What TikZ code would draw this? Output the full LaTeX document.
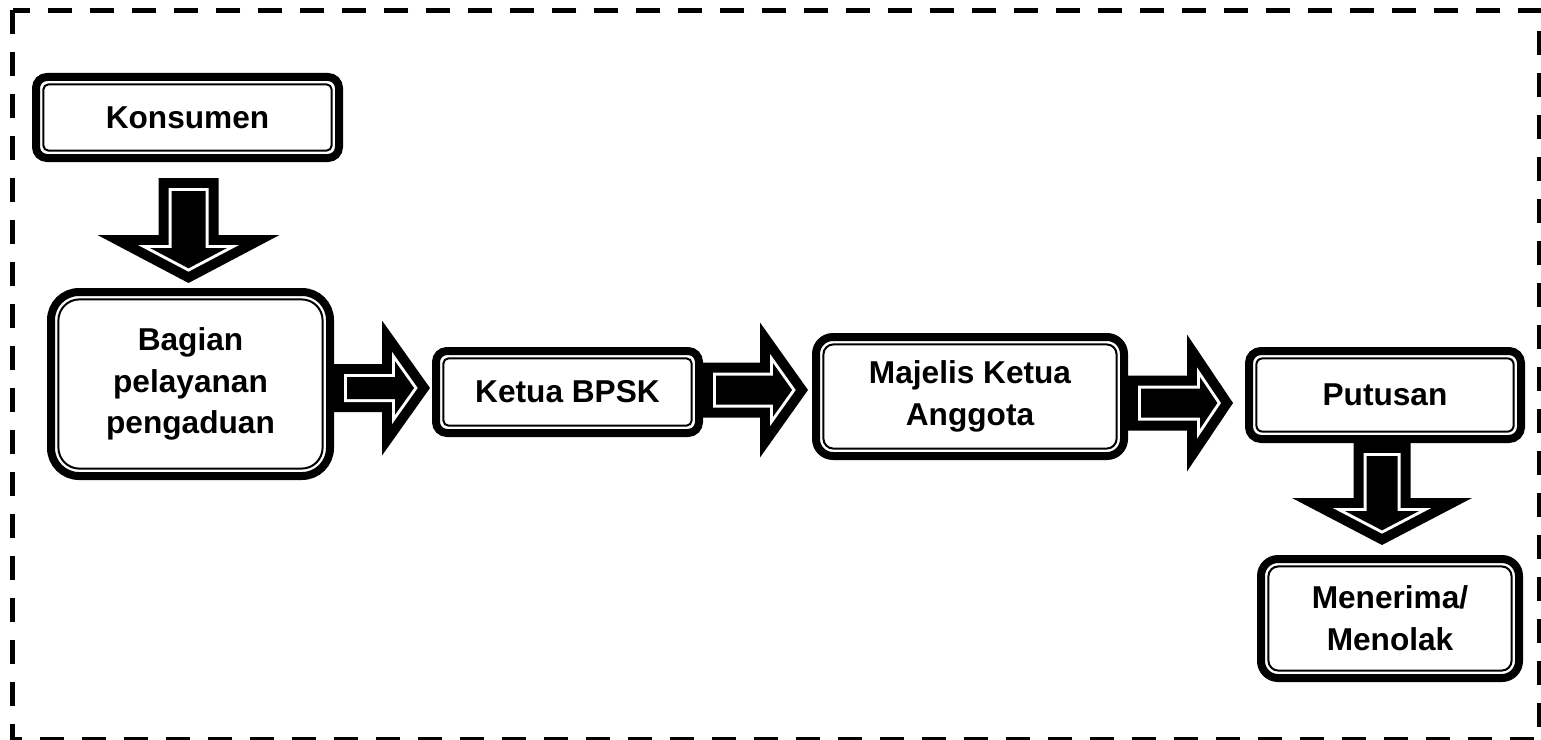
\documentclass[tikz,border=0pt]{standalone}
\usepackage{fontspec}
\setmainfont{Liberation Sans}
\usepackage{tikz}
\usetikzlibrary{calc}

\newlength{\titik}
\setlength{\titik}{0.02cm}

\tikzset{
    kotak/.style = {draw = black, line width = 8\titik, align = center, inner sep = 0pt,
        font = \bfseries\fontsize{18}{23.7}\selectfont},
    garisdalam/.style = {draw = black, line width = 2\titik},
}

% bentuk panah terisi: #1 warna, #2 pangkal, #3 ujung,
% #4 setengah lebar batang, #5 setengah lebar kepala, #6 panjang kepala (dalam titik)
\newcommand{\polipanah}[6]{
    \coordinate (kp) at ($(#3)!#6*0.02cm!(#2)$);
    \fill[#1] ($(#2)!#4*0.02cm!90:(#3)$) -- ($(kp)!#4*0.02cm!90:(#3)$)
        -- ($(kp)!#5*0.02cm!90:(#3)$) -- (#3) -- ($(kp)!#5*0.02cm!-90:(#3)$)
        -- ($(kp)!#4*0.02cm!-90:(#3)$) -- ($(#2)!#4*0.02cm!-90:(#3)$) -- cycle;
}

% panah blok hitam dengan garis putih di dalamnya
\newcommand{\panahblok}[5]{
    \polipanah{black}{#1}{#2}{#3}{#4}{#5}
    \foreach \jarak/\warna in {10/white, 13/black} {
        \pgfmathsetmacro{\mundur}{\jarak*sqrt(#4*#4+#5*#5)/#4}
        \pgfmathsetmacro{\pk}{#5-\jarak-\mundur}
        \pgfmathsetmacro{\lk}{\pk*#4/#5}
        \pgfmathsetmacro{\lb}{#3-\jarak}
        \coordinate (pa) at ($(#1)!\jarak*0.02cm!(#2)$);
        \coordinate (pb) at ($(#2)!\mundur*0.02cm!(#1)$);
        \polipanah{\warna}{pa}{pb}{\lb}{\lk}{\pk}
    }
}

\begin{document}
\begin{tikzpicture}[x = 0.02cm, y = -0.02cm]
    \useasboundingbox (0, 0) rectangle (1541, 740);
    \draw[line width = 0.1cm, dash pattern = on 0.48cm off 0.36cm] (12.5, 10.5) rectangle (1539.5, 739);

    \node[kotak, minimum width = 303\titik, minimum height = 81\titik, rounded corners = 11\titik]
        (konsumen) at (187.5, 117.5) {Konsumen};
    \node[kotak, minimum width = 279\titik, minimum height = 184\titik, rounded corners = 28\titik]
        (bagian) at (190.5, 384) {Bagian\\pelayanan\\pengaduan};
    \node[kotak, minimum width = 263\titik, minimum height = 82\titik, rounded corners = 11\titik]
        (ketua) at (567.5, 392) {Ketua BPSK};
    \node[kotak, minimum width = 308\titik, minimum height = 119\titik, rounded corners = 17\titik]
        (majelis) at (970, 396.5) {Majelis Ketua\\Anggota};
    \node[kotak, minimum width = 272\titik, minimum height = 88\titik, rounded corners = 12\titik]
        (putusan) at (1385, 395) {\raisebox{1.5\titik}{Putusan}};
    \node[kotak, minimum width = 258\titik, minimum height = 119\titik, rounded corners = 17\titik]
        (menerima) at (1390, 618.5) {Menerima/\\Menolak};

    % garis tipis di dalam kotak
    \foreach \n/\r in {konsumen/5, bagian/21, ketua/5, majelis/10, putusan/6, menerima/10}
        \draw[garisdalam, rounded corners = \r\titik] ([shift = {(11.4, 11.4)}]\n.north west)
            rectangle ([shift = {(-11.4, -11.4)}]\n.south east);

    \coordinate (p4) at ([shift = {(1, 16)}]konsumen.south);
    \coordinate (u4) at ([shift = {(-2, -5)}]bagian.north);
    \panahblok{p4}{u4}{30}{91}{48}

    \coordinate (u1) at ([shift = {(-2, -4)}]ketua.west);
    \coordinate (p1) at (bagian.east |- u1);
    \panahblok{p1}{u1}{24}{67.5}{48}

    \coordinate (u2) at ([shift = {(-4, -6.5)}]majelis.west);
    \coordinate (p2) at (ketua.east |- u2);
    \panahblok{p2}{u2}{27.5}{67.5}{48}

    \coordinate (u3) at ([shift = {(-12, 8)}]putusan.west);
    \coordinate (p3) at (majelis.east |- u3);
    \panahblok{p3}{u3}{27.5}{68.5}{46}

    \coordinate (p5) at ([shift = {(-3, 0)}]putusan.south);
    \coordinate (u5) at ([shift = {(-8, -10)}]menerima.north);
    \panahblok{p5}{u5}{28.5}{90}{47}
\end{tikzpicture}
\end{document}
